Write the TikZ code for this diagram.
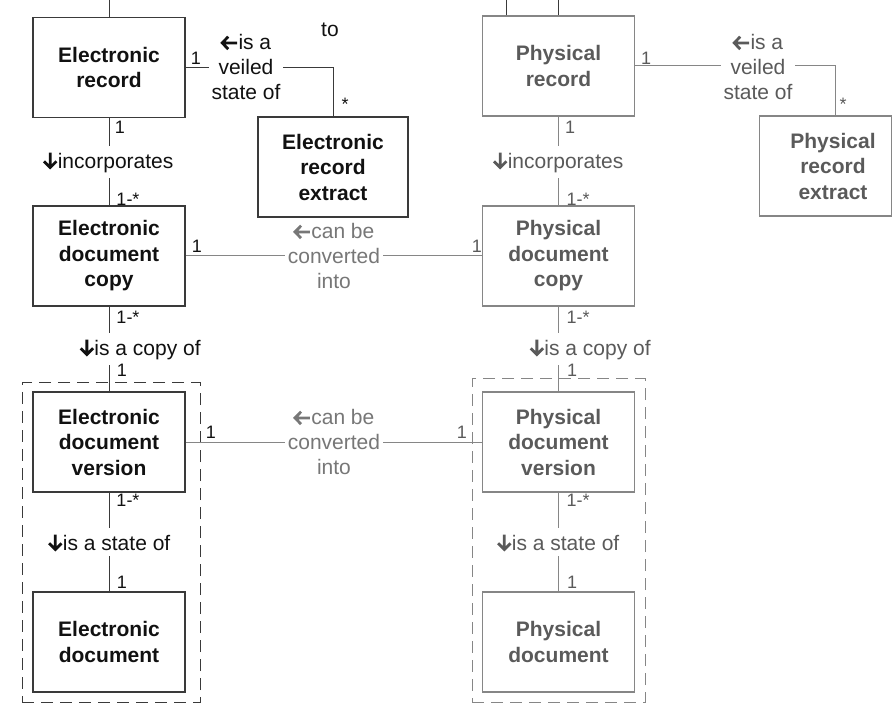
\documentclass[tikz,border=0pt]{standalone}
\usepackage{fontspec}
\setmainfont{Liberation Sans}
\definecolor{ek}{HTML}{111111}
\definecolor{el}{HTML}{3A3A3A}
\definecolor{pk}{HTML}{5A5A5A}
\definecolor{pl}{HTML}{868686}
\definecolor{pc}{HTML}{777777}
\newcommand{\la}{\tikz[x=1pt,y=1pt,baseline=0pt]{\draw[draw=.,line width=2.8pt,line cap=butt,line join=miter] (7.6,12.8)--(1.6,6.6)--(7.6,0.4) (1.6,6.6)--(16.5,6.6);}}
\newcommand{\da}{\tikz[x=1pt,y=1pt,baseline=0pt]{\draw[draw=.,line width=2.8pt,line cap=butt,line join=miter] (0.8,7.2)--(7,1)--(13.2,7.2) (7,1)--(7,16);}}
\tikzset{
  box/.style={draw, rectangle, minimum width=152pt, minimum height=100pt, align=center,
    font=\fontsize{21}{25.5}\selectfont\bfseries, inner sep=0pt, line width=1.2pt},
  ebox/.style={box, draw=el, text=ek},
  pbox/.style={box, draw=pl, text=pk},
  lab/.style={fill=white, align=center, font=\fontsize{21}{25}\selectfont, inner xsep=3pt, inner ysep=5pt},
  mult/.style={font=\fontsize{18}{18}\selectfont, inner sep=0pt},
  econ/.style={draw=el, line width=1pt},
  pcon/.style={draw=pl, line width=1pt},
  grp/.style={draw, rectangle, dash pattern=on 12pt off 7pt, line width=1pt, inner sep=0pt}
}
\begin{document}
\begin{tikzpicture}[x=1pt,y=-1pt]
\useasboundingbox (0,0) rectangle (892,703);
% groups
\node[grp, draw=el, minimum width=178pt, minimum height=319pt] (eg) at (111,542.5) {};
\node[grp, draw=pl, minimum width=173pt, minimum height=323pt] (pg) at (558.5,540.5) {};
% boxes
\node[ebox] (er) at (109,67.5) {Electronic\\record};
\node[ebox, minimum width=150pt] (ere) at (333,167) {Electronic\\record\\extract};
\node[ebox] (edc) at (109,256) {Electronic\\document\\copy};
\node[ebox] (edv) at (109,442) {Electronic\\document\\version};
\node[ebox] (ed) at (109,642) {Electronic\\document};
\node[pbox] (pr) at (558.5,66) {Physical\\record};
\node[pbox, minimum width=132pt] (pre) at (825.5,166) {};
\node[align=center, font=\fontsize{21}{25.5}\selectfont\bfseries, text=pk] (pret) at (833,166) {Physical\\record\\extract};
\node[pbox] (pdc) at (558.5,256) {Physical\\document\\copy};
\node[pbox] (pdv) at (558.5,442) {Physical\\document\\version};
\node[pbox] (pd) at (558.5,642) {Physical\\document};
% top stubs
\coordinate (t1) at (109,0);
\coordinate (t2) at (506,0);
\coordinate (t3) at (558.5,0);
\draw[econ] (er.north) -- (t1);
\draw[econ] (pr.north -| t2) -- (t2);
\draw[econ] (pr.north) -- (t3);
% connectors
\coordinate (pretop) at ([xshift=10pt]pre.north);
\draw[econ] (er.east) -| (ere.north);
\draw[econ] (er.south) -- (edc.north);
\draw[pcon] (edc.east) -- (pdc.west);
\draw[econ] (edc.south) -- (edv.north);
\draw[pcon] (edv.east) -- (pdv.west);
\draw[econ] (edv.south) -- (ed.north);
\draw[pcon] (pr.east) -| (pretop);
\draw[pcon] (pr.south) -- (pdc.north);
\draw[pcon] (pdc.south) -- (pdv.north);
\draw[pcon] (pdv.south) -- (pd.north);
% labels
\node[lab, text=ek] (l1) at (246,67) {\la is a\\veiled\\state of};
\node[lab, text=ek] (l2) at (108,162) {\da incorporates};
\node[lab, text=pk] (l3) at (758,67) {\la is a\\veiled\\state of};
\node[lab, text=pk] (l4) at (558,162) {\da incorporates};
\node[lab, text=pc] (l5) at (334,256) {\la can be\\converted\\into};
\node[lab, text=pc] (l6) at (334,442) {\la can be\\converted\\into};
\node[lab, text=ek] (l7) at (140,349) {\da is a copy of};
\node[lab, text=pk] (l8) at (590,349) {\da is a copy of};
\node[lab, text=ek] (l9) at (109,542) {\da is a state of};
\node[lab, text=pk] (l10) at (558,542) {\da is a state of};
\node[lab, text=ek] (to) at (330,30) {to};
% multiplicities
\node[mult, text=ek] (m1) at (196,58) {1};
\node[mult, text=ek] (m2) at (120,127) {1};
\node[mult, text=ek] (m3) at (128,199) {1-*};
\node[mult, text=ek] (m4) at (345,104) {*};
\node[mult, text=ek] (m5) at (197,246) {1};
\node[mult, text=ek] (m6) at (128,317) {1-*};
\node[mult, text=ek] (m7) at (122,370) {1};
\node[mult, text=ek] (m8) at (211,432) {1};
\node[mult, text=ek] (m9) at (128,500) {1-*};
\node[mult, text=ek] (m10) at (122,582) {1};
\node[mult, text=pk] (n1) at (646,58) {1};
\node[mult, text=pk] (n2) at (570,127) {1};
\node[mult, text=pk] (n3) at (578,199) {1-*};
\node[mult, text=pk] (n4) at (843,104) {*};
\node[mult, text=pk] (n5) at (477,246) {1};
\node[mult, text=pk] (n6) at (578,317) {1-*};
\node[mult, text=pk] (n7) at (572,370) {1};
\node[mult, text=pk] (n8) at (462,432) {1};
\node[mult, text=pk] (n9) at (578,500) {1-*};
\node[mult, text=pk] (n10) at (572,582) {1};
\end{tikzpicture}
\end{document}
